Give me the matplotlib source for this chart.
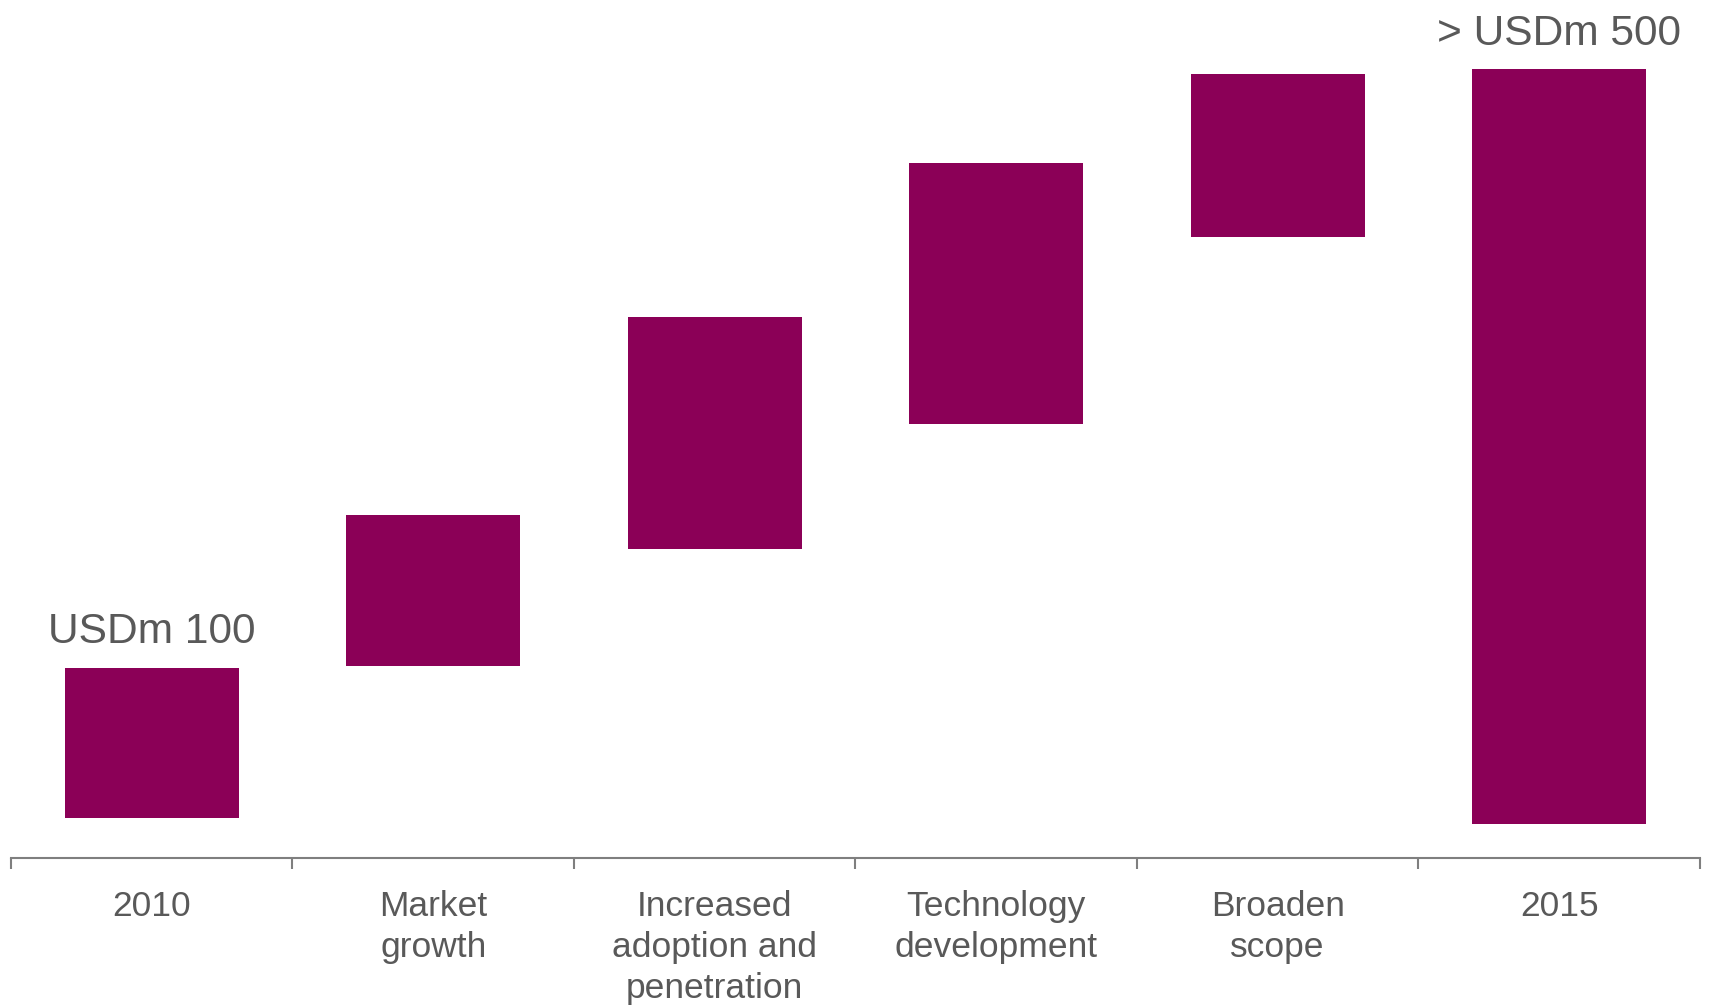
import matplotlib
matplotlib.use("Agg")
import matplotlib.pyplot as plt
import numpy as np

plt.rcParams['font.family'] = ['Liberation Sans', 'DejaVu Sans']

# waterfall steps (USDm), floating bars: bottom and top of each bar
categories = ["2010", "Market\ngrowth", "Increased\nadoption and\npenetration",
              "Technology\ndevelopment", "Broaden\nscope", "2015"]
bar_bottom = [0, 101, 179, 262, 386, -4]
bar_top = [100, 201, 333, 435, 494, 497]
end_labels = {0: "USDm 100", 5: "> USDm 500"}

bar_color = "#8B0057"
text_color = "#595959"
axis_color = "#7F7F7F"

fig = plt.figure(figsize=(17.13, 10.08), dpi=100)
ax = fig.add_axes([0.0064, 0.1492, 0.986, 0.8508])

x = np.arange(len(categories))
heights = np.array(bar_top) - np.array(bar_bottom)
ax.bar(x, heights, bottom=bar_bottom, width=0.617, color=bar_color)

for i, txt in end_labels.items():
    ax.annotate(txt, (x[i], bar_top[i]), xytext=(0, 17.5), textcoords="offset points",
                ha="center", va="baseline", fontsize=30.6, color=text_color)

ax.set_xlim(-0.5, len(categories) - 0.5)
ax.set_ylim(-26, 543)

for s in ["top", "right", "left"]:
    ax.spines[s].set_visible(False)
ax.spines["bottom"].set_color(axis_color)
ax.spines["bottom"].set_linewidth(1.5)
ax.set_yticks([])

# boundary ticks between categories, labels at centres
ax.set_xticks(np.arange(-0.5, len(categories), 1.0))
ax.set_xticklabels([])
ax.tick_params(axis="x", which="major", direction="out", length=8, width=1.5, color=axis_color)
ax.set_xticks(x, minor=True)
ax.set_xticklabels(categories, minor=True, fontsize=25.5, color=text_color,
                   linespacing=1.32)
ax.tick_params(axis="x", which="minor", length=0, pad=23)

fig.savefig("out.png", dpi=100)
